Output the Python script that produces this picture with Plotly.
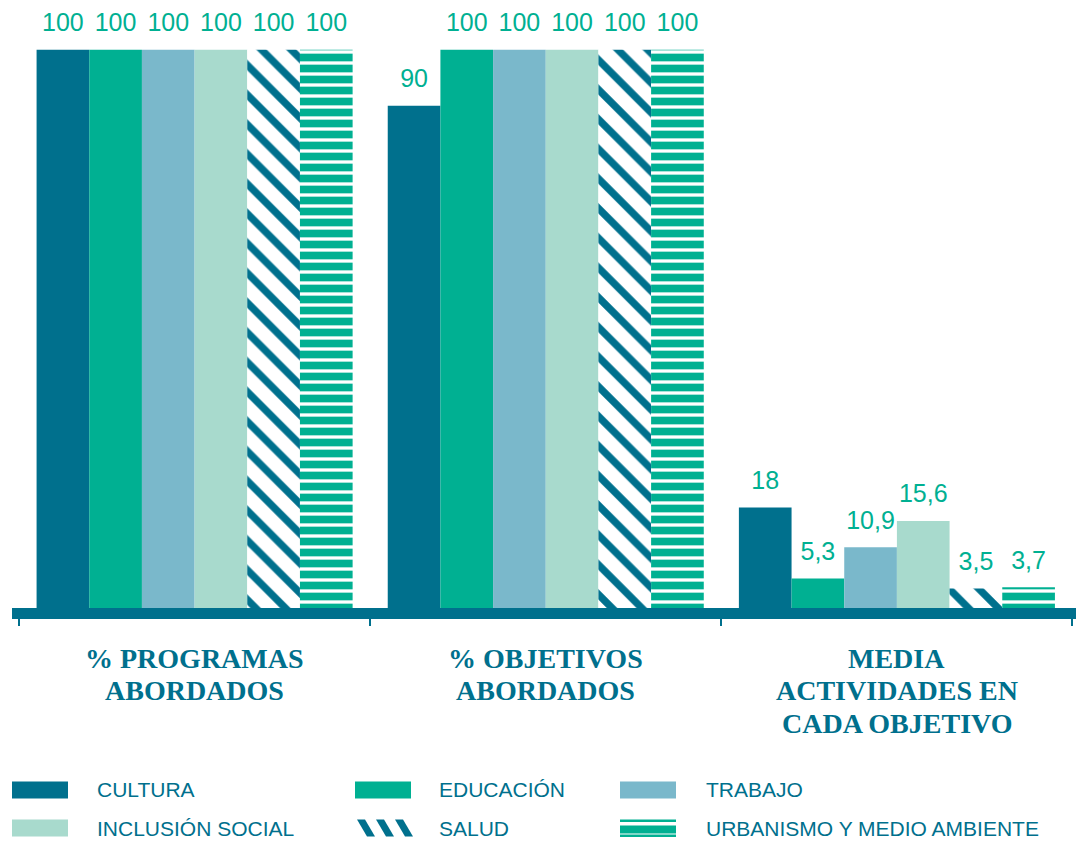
import plotly.graph_objects as go

categories = [
    "% PROGRAMAS<br>ABORDADOS",
    "% OBJETIVOS<br>ABORDADOS",
    "MEDIA<br>ACTIVIDADES EN<br>CADA OBJETIVO",
]

series_names = ["CULTURA", "EDUCACIÓN", "TRABAJO", "INCLUSIÓN SOCIAL", "SALUD",
                "URBANISMO Y MEDIO AMBIENTE"]

cultura = [100, 90, 18]
educacion = [100, 100, 5.3]
trabajo = [100, 100, 10.9]
inclusion = [100, 100, 15.6]
salud = [100, 100, 3.5]
urbanismo = [100, 100, 3.7]

TEAL = "#00708d"
GREEN = "#00b092"

values = [cultura, educacion, trabajo, inclusion, salud, urbanismo]
colors = [TEAL, GREEN, "#7ab8cb", "#a8dacd", TEAL, GREEN]
patterns = ["", "", "", "", "\\", "-"]

# the page body has an 8px margin, so the figure starts at (8, 8)
OFF = 8
W, H = 1078, 833
ML, MR, MT, MB = 4, 10, 0, 233


def px_x(p):
    # page pixel -> paper x
    return (p - OFF - ML) / (W - ML - MR)


def px_y(p):
    # page pixel -> paper y
    return (H - MB - (p - OFF)) / (H - MT - MB)


def fmt(v):
    return str(v).replace(".", ",")


fig = go.Figure()

for name, vals, color, shape in zip(series_names, values, colors, patterns):
    if shape:
        marker = dict(
            color="white",
            line=dict(width=0),
            pattern=dict(shape=shape, fgcolor=color, bgcolor="white",
                         fillmode="replace",
                         size=21 if shape == "\\" else 11,
                         solidity=0.35 if shape == "\\" else 0.7),
        )
    else:
        marker = dict(color=color, line=dict(width=0))
    fig.add_trace(go.Bar(x=categories, y=vals, name=name, marker=marker,
                         showlegend=False))

# value labels, grouped like the bars
for name, vals in zip(series_names, values):
    fig.add_trace(go.Scatter(
        x=categories, y=vals,
        mode="markers+text",
        text=[fmt(v) for v in vals],
        textposition="top center",
        textfont=dict(family="Liberation Sans, Arial", size=25, color=GREEN),
        marker=dict(size=18, opacity=0),
        showlegend=False,
        hoverinfo="skip",
        cliponaxis=False,
    ))

# category labels under the axis (tight line spacing)
for cat in categories:
    for k, line in enumerate(cat.split("<br>")):
        fig.add_annotation(
            x=cat, xref="x",
            y=px_y(658 + 32.5 * k), yref="paper",
            text=line, showarrow=False,
            xanchor="center", yanchor="middle",
            font=dict(family="Liberation Serif, Times New Roman", size=28,
                      color=TEAL, weight="bold"),
        )

# legend, drawn by hand to get the wide swatches
swatch_x = [12, 355, 620]
label_x = [95, 437, 704]
row_y = [790, 828]
sw_w, sw_h = 56, 17

for i, (name, color, shape) in enumerate(zip(series_names, colors, patterns)):
    r, c = divmod(i, 3)
    x0 = swatch_x[c]
    yc = row_y[r]
    y0, y1 = yc - sw_h / 2, yc + sw_h / 2
    if shape == "\\":
        for k in range(3):
            xs = x0 + 2 + k * 19
            path = (f"M{px_x(xs)},{px_y(y0)} L{px_x(xs + 8)},{px_y(y0)} "
                    f"L{px_x(xs + 18)},{px_y(y1)} L{px_x(xs + 10)},{px_y(y1)} Z")
            fig.add_shape(type="path", path=path, xref="paper", yref="paper",
                          fillcolor=color, line=dict(width=0))
    elif shape == "-":
        for a, b in [(y0, y0 + 2.5), (y0 + 6, y0 + 14), (y1 - 2, y1 + 0.5)]:
            fig.add_shape(type="rect", xref="paper", yref="paper",
                          x0=px_x(x0), x1=px_x(x0 + sw_w),
                          y0=px_y(a), y1=px_y(b),
                          fillcolor=color, line=dict(width=0))
    else:
        fig.add_shape(type="rect", xref="paper", yref="paper",
                      x0=px_x(x0), x1=px_x(x0 + sw_w),
                      y0=px_y(y0), y1=px_y(y1),
                      fillcolor=color, line=dict(width=0))
    fig.add_annotation(
        x=px_x(label_x[c]), xref="paper",
        y=px_y(yc), yref="paper",
        text=name, showarrow=False,
        xanchor="left", yanchor="middle",
        font=dict(family="Liberation Sans, Arial", size=21, color=TEAL),
    )

fig.update_layout(
    width=W,
    height=H,
    margin=dict(l=ML, r=MR, t=MT, b=MB),
    plot_bgcolor="white",
    paper_bgcolor="white",
    barmode="group",
    bargap=0.10,
    bargroupgap=0,
    scattermode="group",
    scattergap=0.10,
    showlegend=False,
)

fig.update_xaxes(
    range=[-0.52, 2.51],
    showline=True,
    linewidth=11,
    linecolor=TEAL,
    ticks="outside",
    tickson="boundaries",
    ticklen=7,
    tickwidth=2,
    tickcolor=TEAL,
    showticklabels=False,
    showgrid=False,
)

fig.update_yaxes(
    range=[0, 107.5],
    visible=False,
    showgrid=False,
)

fig.write_html("out.html")
